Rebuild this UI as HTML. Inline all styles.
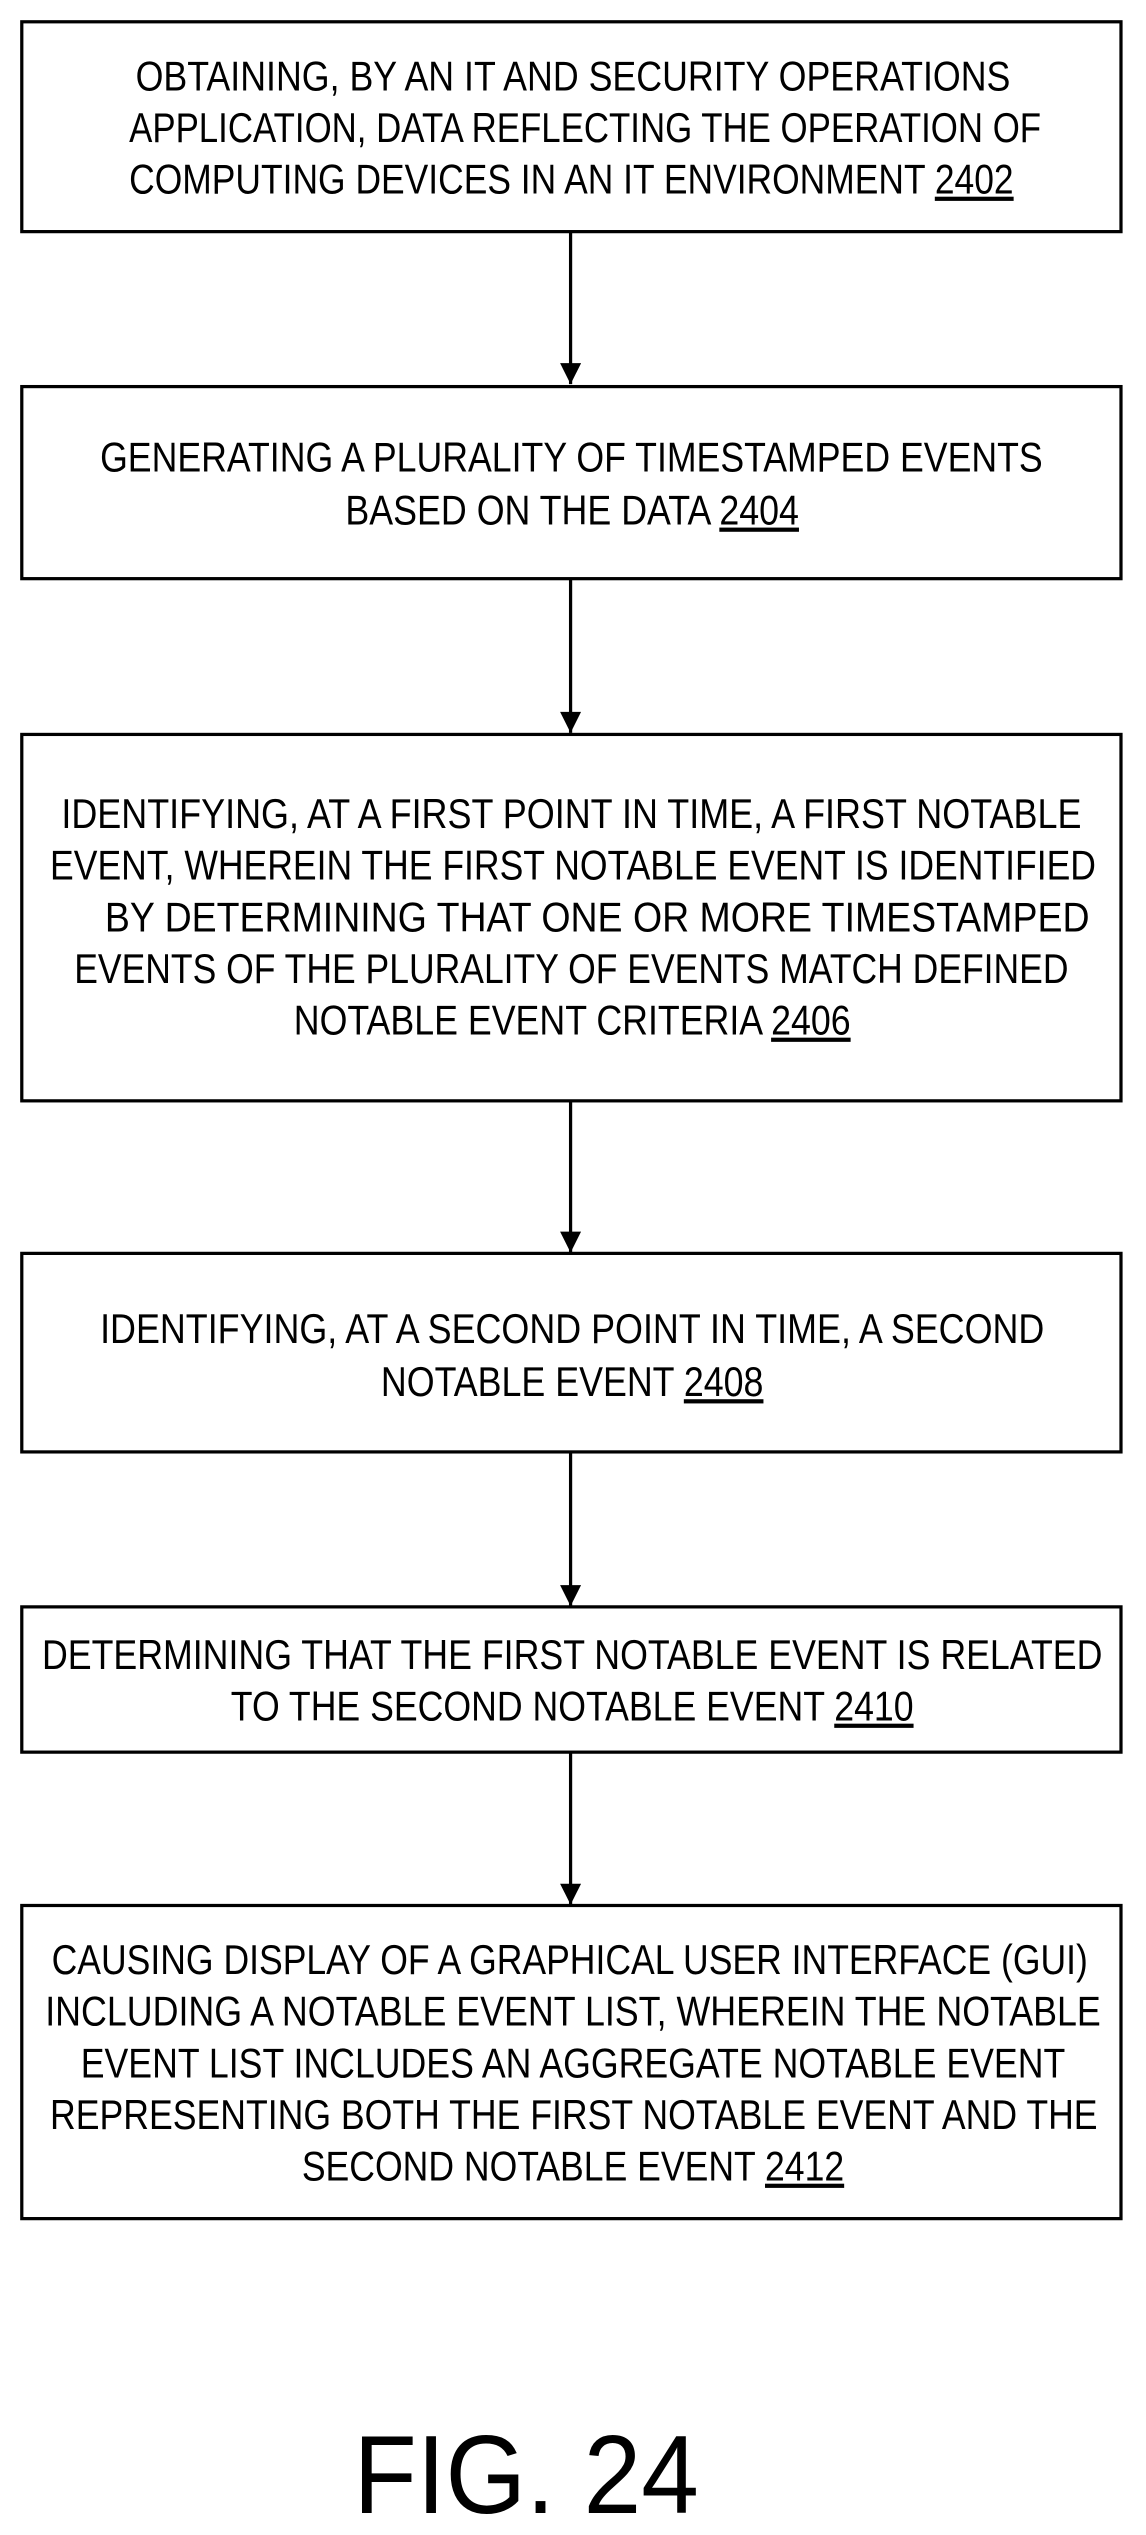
<!DOCTYPE html>
<html><head><meta charset="utf-8"><style>html,body{margin:0;padding:0;background:#fff}svg{display:block}</style></head>
<body>
<svg width="1146" height="2535" viewBox="0 0 710 1570.5" preserveAspectRatio="none" xmlns="http://www.w3.org/2000/svg" font-family="Liberation Sans, sans-serif" fill="#000">
<defs><marker id="a" viewBox="0 0 10 10" refX="10" refY="5" markerWidth="17" markerHeight="13" markerUnits="userSpaceOnUse" orient="auto"><path d="M0,0 L10,5 L0,10 z"/></marker></defs>
<g fill="none" stroke="#000" stroke-width="2">
<rect x="13.5" y="13.5" width="681" height="130"/>
<rect x="13.5" y="239.5" width="681" height="119"/>
<rect x="13.5" y="455" width="681" height="227"/>
<rect x="13.5" y="776.5" width="681" height="123"/>
<rect x="13.5" y="995.5" width="681" height="90"/>
<rect x="13.5" y="1180.5" width="681" height="194"/>
<line x1="353.5" y1="144" x2="353.5" y2="238" marker-end="url(#a)"/>
<line x1="353.5" y1="359" x2="353.5" y2="454" marker-end="url(#a)"/>
<line x1="353.5" y1="682" x2="353.5" y2="776" marker-end="url(#a)"/>
<line x1="353.5" y1="900" x2="353.5" y2="995" marker-end="url(#a)"/>
<line x1="353.5" y1="1086" x2="353.5" y2="1180" marker-end="url(#a)"/>
</g>
<g font-size="26">
<text x="84" y="56" textLength="542" lengthAdjust="spacingAndGlyphs">OBTAINING, BY AN IT AND SECURITY OPERATIONS</text>
<text x="80" y="88" textLength="565" lengthAdjust="spacingAndGlyphs">APPLICATION, DATA REFLECTING THE OPERATION OF</text>
<text x="80" y="120" textLength="548" lengthAdjust="spacingAndGlyphs">COMPUTING DEVICES IN AN IT ENVIRONMENT <tspan text-decoration="underline">2402</tspan></text>
<text x="62" y="292" textLength="584" lengthAdjust="spacingAndGlyphs">GENERATING A PLURALITY OF TIMESTAMPED EVENTS</text>
<text x="214" y="325" textLength="281" lengthAdjust="spacingAndGlyphs">BASED ON THE DATA <tspan text-decoration="underline">2404</tspan></text>
<text x="38" y="513" textLength="632" lengthAdjust="spacingAndGlyphs">IDENTIFYING, AT A FIRST POINT IN TIME, A FIRST NOTABLE</text>
<text x="31" y="545" textLength="648" lengthAdjust="spacingAndGlyphs">EVENT, WHEREIN THE FIRST NOTABLE EVENT IS IDENTIFIED</text>
<text x="65" y="577" textLength="610" lengthAdjust="spacingAndGlyphs">BY DETERMINING THAT ONE OR MORE TIMESTAMPED</text>
<text x="46" y="609" textLength="616" lengthAdjust="spacingAndGlyphs">EVENTS OF THE PLURALITY OF EVENTS MATCH DEFINED</text>
<text x="182" y="641" textLength="345" lengthAdjust="spacingAndGlyphs">NOTABLE EVENT CRITERIA <tspan text-decoration="underline">2406</tspan></text>
<text x="62" y="832" textLength="585" lengthAdjust="spacingAndGlyphs">IDENTIFYING, AT A SECOND POINT IN TIME, A SECOND</text>
<text x="236" y="865" textLength="237" lengthAdjust="spacingAndGlyphs">NOTABLE EVENT <tspan text-decoration="underline">2408</tspan></text>
<text x="26" y="1034" textLength="657" lengthAdjust="spacingAndGlyphs">DETERMINING THAT THE FIRST NOTABLE EVENT IS RELATED</text>
<text x="143" y="1066" textLength="423" lengthAdjust="spacingAndGlyphs">TO THE SECOND NOTABLE EVENT <tspan text-decoration="underline">2410</tspan></text>
<text x="32" y="1223" textLength="642" lengthAdjust="spacingAndGlyphs">CAUSING DISPLAY OF A GRAPHICAL USER INTERFACE (GUI)</text>
<text x="28" y="1255" textLength="654" lengthAdjust="spacingAndGlyphs">INCLUDING A NOTABLE EVENT LIST, WHEREIN THE NOTABLE</text>
<text x="50" y="1287" textLength="610" lengthAdjust="spacingAndGlyphs">EVENT LIST INCLUDES AN AGGREGATE NOTABLE EVENT</text>
<text x="31" y="1319" textLength="649" lengthAdjust="spacingAndGlyphs">REPRESENTING BOTH THE FIRST NOTABLE EVENT AND THE</text>
<text x="187" y="1351" textLength="336" lengthAdjust="spacingAndGlyphs">SECOND NOTABLE EVENT <tspan text-decoration="underline">2412</tspan></text>
</g>
<text x="219" y="1557" font-size="69" textLength="214" lengthAdjust="spacingAndGlyphs">FIG. 24</text>
</svg>
</body></html>
